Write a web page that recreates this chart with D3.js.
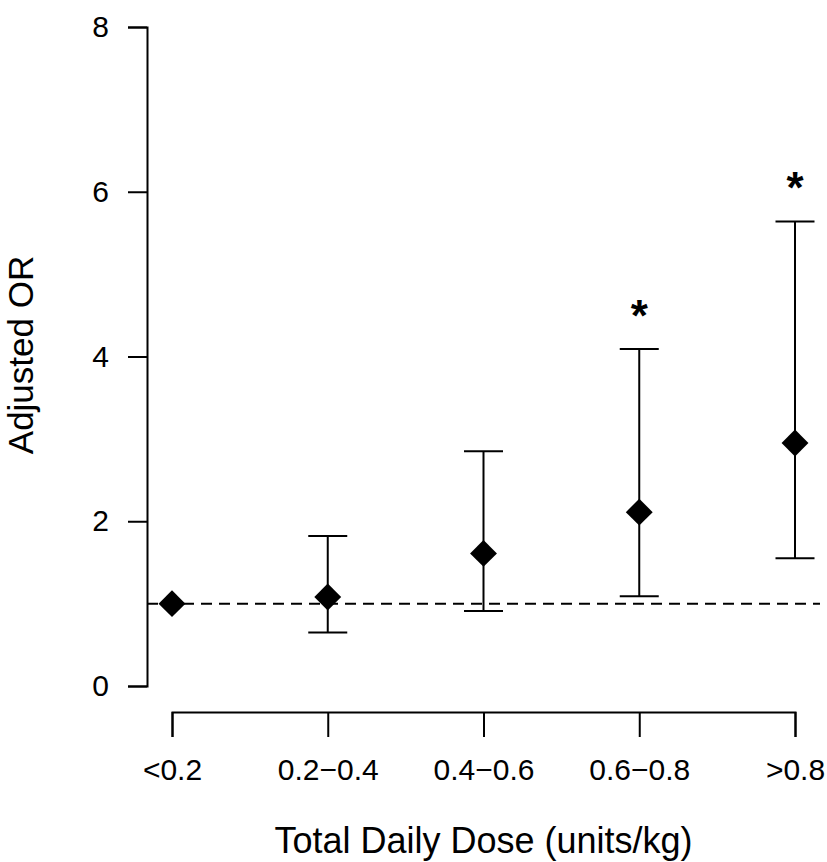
<!DOCTYPE html>
<html>
<head>
<meta charset="utf-8">
<script src="https://cdn.jsdelivr.net/npm/d3@7"></script>
<style>
  html, body { margin: 0; padding: 0; background: #fff; }
  svg { display: block; }
  text { font-family: "Liberation Sans", Arial, Helvetica, sans-serif; fill: #000; }
</style>
</head>
<body>
<div id="chart"></div>
<script>
// ---- data ----
const categories = ["<0.2", "0.2\u22120.4", "0.4\u22120.6", "0.6\u22120.8", ">0.8"];
const orValues   = [1.00, 1.08, 1.61, 2.11, 2.95];
const ciLower    = [null, 0.65, 0.91, 1.09, 1.55];
const ciUpper    = [null, 1.82, 2.85, 4.09, 5.64];
const significant = [false, false, false, true, true];
const yTicks = [0, 2, 4, 6, 8];
const referenceOR = 1;
const xTitle = "Total Daily Dose (units/kg)";
const yTitle = "Adjusted OR";

// ---- layout ----
const W = 827, H = 862;
const plot = { left: 147, right: 820, top: 1, bottom: 712 };

const svg = d3.select("#chart").append("svg")
  .attr("width", W).attr("height", H);

const x = d3.scalePoint().domain(categories).range([172, 795]);
const y = d3.scaleLinear().domain([0, 8]).range([686, 27]);

// y axis
const yAxis = d3.axisLeft(y).tickValues(yTicks).tickFormat(d3.format("d"))
  .tickSize(19).tickPadding(19);
const gy = svg.append("g").attr("transform", `translate(${plot.left},0)`).call(yAxis);
gy.selectAll("path, line").attr("stroke", "#000").attr("stroke-width", 2);
gy.selectAll("text").style("font-size", "30px");

// x axis
const xAxis = d3.axisBottom(x).tickSize(25).tickPadding(22);
const gx = svg.append("g").attr("transform", `translate(0,${plot.bottom})`).call(xAxis);
gx.selectAll("path, line").attr("stroke", "#000").attr("stroke-width", 2);
gx.selectAll("text").style("font-size", "30px");

// reference dashed line
svg.append("line")
  .attr("x1", plot.left).attr("x2", plot.right)
  .attr("y1", y(referenceOR)).attr("y2", y(referenceOR))
  .attr("stroke", "#000").attr("stroke-width", 2)
  .attr("stroke-dasharray", "11,7");

const data = categories.map((c, i) => ({
  c, or: orValues[i], lo: ciLower[i], hi: ciUpper[i], sig: significant[i]
}));

// error bars
const capHalf = 19.5;
const eb = svg.append("g").selectAll("g").data(data.filter(d => d.lo != null)).join("g");
eb.append("line")
  .attr("x1", d => x(d.c)).attr("x2", d => x(d.c))
  .attr("y1", d => y(d.lo)).attr("y2", d => y(d.hi))
  .attr("stroke", "#000").attr("stroke-width", 2);
eb.append("line")
  .attr("x1", d => x(d.c) - capHalf).attr("x2", d => x(d.c) + capHalf)
  .attr("y1", d => y(d.hi)).attr("y2", d => y(d.hi))
  .attr("stroke", "#000").attr("stroke-width", 2);
eb.append("line")
  .attr("x1", d => x(d.c) - capHalf).attr("x2", d => x(d.c) + capHalf)
  .attr("y1", d => y(d.lo)).attr("y2", d => y(d.lo))
  .attr("stroke", "#000").attr("stroke-width", 2);

// diamonds
svg.append("g").selectAll("path").data(data).join("path")
  .attr("d", d3.symbol().type(d3.symbolSquare).size(19 * 19))
  .attr("transform", d => `translate(${x(d.c)},${y(d.or)}) rotate(45)`)
  .attr("fill", "#000");

// significance stars
svg.append("g").selectAll("text").data(data.filter(d => d.sig)).join("text")
  .attr("x", d => x(d.c))
  .attr("y", d => y(d.hi) - 18)
  .attr("text-anchor", "middle")
  .style("font-size", "44px")
  .style("font-weight", "bold")
  .text("*");

// axis titles
svg.append("text")
  .attr("x", (plot.left + plot.right) / 2)
  .attr("y", 853)
  .attr("text-anchor", "middle")
  .style("font-size", "36px")
  .text(xTitle);

svg.append("text")
  .attr("transform", `translate(33,355) rotate(-90)`)
  .attr("text-anchor", "middle")
  .style("font-size", "35px")
  .text(yTitle);
</script>
</body>
</html>
